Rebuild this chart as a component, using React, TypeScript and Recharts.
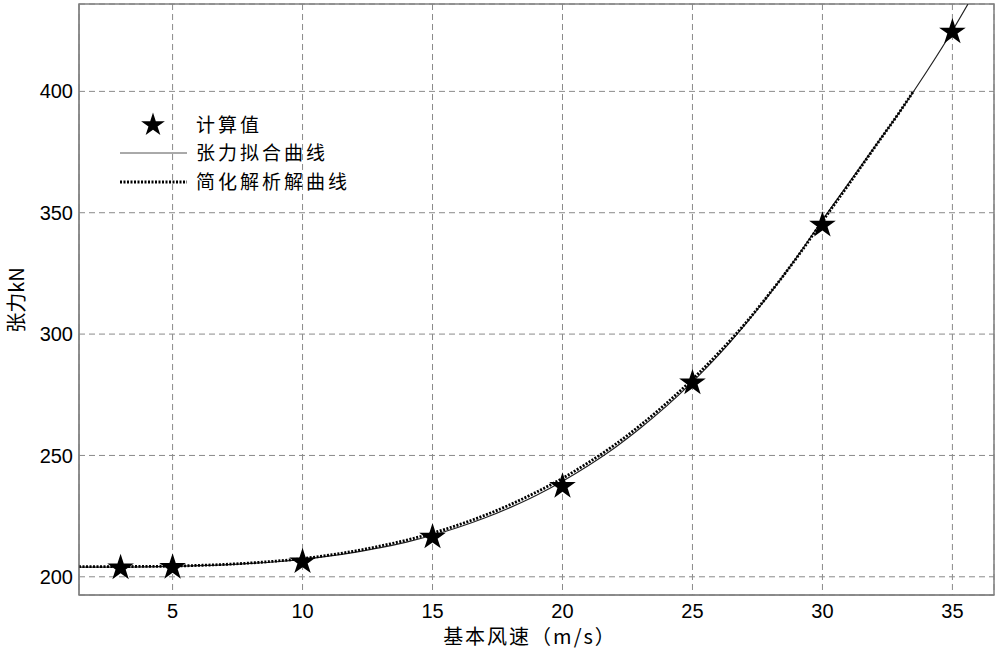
import React from 'react';
import { ComposedChart, Line, Scatter, XAxis, YAxis, CartesianGrid, ReferenceArea } from 'recharts';

// 计算值 (stars)
const windSpeeds = [3, 5, 10, 15, 20, 25, 30, 35];
const computedTension = [204.3, 204.5, 206.8, 217.0, 237.9, 280.5, 345.5, 425.1];

// 张力拟合曲线 (thin solid)
const fitSpeeds = [1.4, 2, 3, 4, 5, 6, 7, 8, 9, 10, 11, 12, 13, 14, 15, 16, 17, 18, 19, 20, 21, 22, 23, 24, 25, 26, 27, 28, 29, 30, 31, 32, 33, 34, 35, 35.6];
const fitTension = [204.0, 204.0, 204.0, 204.1, 204.3, 204.6, 204.9, 205.5, 206.2, 207.2, 208.5, 210.1, 212.0, 214.3, 217.1, 220.4, 224.2, 228.6, 233.6, 239.4, 245.9, 253.1, 261.3, 270.3, 280.3, 291.3, 303.6, 317.0, 331.5, 347.0, 362.0, 377.0, 392.0, 408.0, 425.0, 436.0];

// 简化解析解曲线 (thick dotted)
const simpSpeeds = [1.4, 2, 3, 4, 5, 6, 7, 8, 9, 10, 11, 12, 13, 14, 15, 16, 17, 18, 19, 20, 21, 22, 23, 24, 25, 26, 27, 28, 29, 30, 31, 32, 33, 33.5];
const simpTension = [204.2, 204.2, 204.2, 204.3, 204.4, 204.7, 205.1, 205.7, 206.5, 207.5, 208.9, 210.6, 212.7, 215.1, 218.0, 221.4, 225.3, 229.8, 234.9, 240.6, 247.1, 254.3, 262.5, 271.5, 281.4, 292.2, 304.0, 317.2, 331.3, 346.5, 361.5, 376.8, 392.0, 400.0];

const xTicks = [5, 10, 15, 20, 25, 30, 35];
const yTicks = [200, 250, 300, 350, 400];
const xDomain = [1.4, 36.6];
const yDomain = [192.5, 436];

const computedData = windSpeeds.map((x, i) => ({ x, y: computedTension[i] }));
const fitData = fitSpeeds.map((x, i) => ({ x, y: fitTension[i] }));
const simpData = simpSpeeds.map((x, i) => ({ x, y: simpTension[i] }));

const FONT = '"Liberation Sans", Arial, "Noto Sans CJK SC", sans-serif';
const CJK = '"Noto Sans CJK SC", "Liberation Sans", sans-serif';

function starPoints(cx: number, cy: number, R: number) {
  const r = R * 0.382;
  const pts: string[] = [];
  for (let i = 0; i < 10; i++) {
    const rad = i % 2 === 0 ? R : r;
    const a = -Math.PI / 2 + (i * Math.PI) / 5;
    pts.push(`${cx + rad * Math.cos(a)},${cy + rad * Math.sin(a)}`);
  }
  return pts.join(' ');
}

const StarShape = (props: any) => {
  const { cx, cy } = props;
  if (cx == null || cy == null) return null;
  return <polygon points={starPoints(cx, cy + 1.5, 14)} fill="#000" />;
};

export default function App() {
  return (
    <div style={{ position: 'relative', width: 1000, height: 652, background: '#fff' }}>
      <style>{'body{margin:0;}'}</style>
      <ComposedChart width={1000} height={652} margin={{ top: 4, right: 6, bottom: 0, left: 0 }}>
        <CartesianGrid stroke="#8a8a8a" strokeDasharray="6 4" />
        <XAxis
          type="number"
          dataKey="x"
          domain={xDomain}
          ticks={xTicks}
          allowDataOverflow
          height={57}
          tickLine={false}
          tickMargin={3}
          axisLine={{ stroke: '#808080' }}
          tick={{ fill: '#000', fontSize: 20, fontFamily: FONT }}
          label={{
            content: () => (
              <text x={530} y={644} textAnchor="middle" fontSize={20} fontFamily={CJK} letterSpacing={2} fill="#000">
                基本风速（m/s）
              </text>
            ),
          }}
        />
        <YAxis
          type="number"
          dataKey="y"
          domain={yDomain}
          ticks={yTicks}
          allowDataOverflow
          width={79}
          tickLine={false}
          tickMargin={0}
          axisLine={{ stroke: '#808080' }}
          tick={{ fill: '#000', fontSize: 20, fontFamily: FONT }}
          label={{
            content: () => (
              <text x={24} y={300} transform="rotate(-90 24 300)" textAnchor="middle" fontSize={20} fontFamily={CJK} fill="#000">
                张力kN
              </text>
            ),
          }}
        />
        <ReferenceArea x1={xDomain[0]} x2={xDomain[1]} y1={yDomain[0]} y2={yDomain[1]} fill="none" stroke="#808080" strokeWidth={1.5} />
        <Line data={fitData} dataKey="y" type="monotone" stroke="#222" strokeWidth={1.2} dot={false} isAnimationActive={false} />
        <Line data={simpData} dataKey="y" type="monotone" stroke="#000" strokeWidth={2.8} strokeDasharray="2 1.5" dot={false} isAnimationActive={false} />
        <Scatter data={computedData} dataKey="y" shape={StarShape} isAnimationActive={false} />
      </ComposedChart>

      {/* legend */}
      <svg style={{ position: 'absolute', left: 0, top: 0 }} width={1000} height={652} pointerEvents="none">
        <polygon points={starPoints(153, 125, 12.5)} fill="#000" />
        <line x1={120} y1={153} x2={187} y2={153} stroke="#555" strokeWidth={1} />
        <line x1={120} y1={182} x2={187} y2={182} stroke="#000" strokeWidth={2.8} strokeDasharray="2 1.5" />
        <g fontSize={19} fontFamily={CJK} fill="#000" letterSpacing={3}>
          <text x={196} y={132}>计算值</text>
          <text x={196} y={160}>张力拟合曲线</text>
          <text x={196} y={189}>简化解析解曲线</text>
        </g>
      </svg>
    </div>
  );
}
